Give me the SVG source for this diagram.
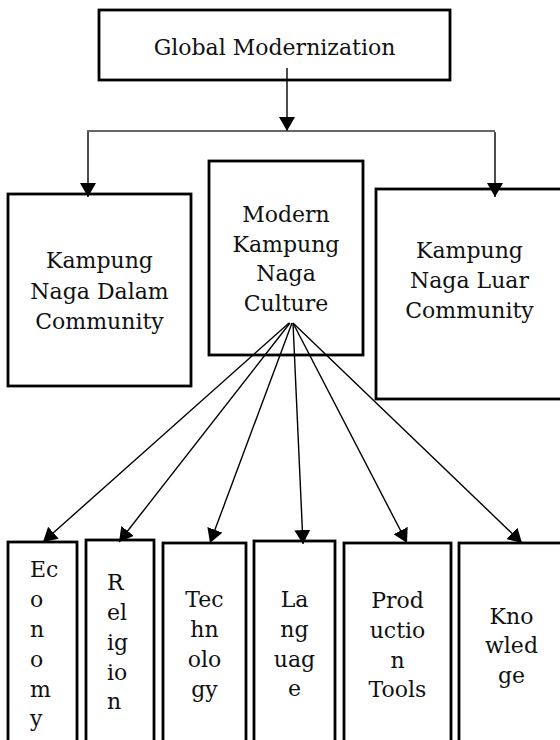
<svg xmlns="http://www.w3.org/2000/svg" width="560" height="740" viewBox="0 0 560 740">
  <style>
    .box { fill: #ffffff; stroke: #000000; stroke-width: 2.8; }
    .t { font-family: "DejaVu Serif", "Liberation Serif", serif; font-size: 22px; fill: #111111; }
    .c { text-anchor: middle; }
    .conn { stroke: #000000; stroke-width: 1.4; fill: none; }
    .bus { stroke: #333333; stroke-width: 1.4; fill: none; }
  </style>
  <defs>
    <marker id="arrow" viewBox="0 0 14 16" refX="14" refY="8" markerWidth="14" markerHeight="16" markerUnits="userSpaceOnUse" orient="auto">
      <path d="M0,0 L14,8 L0,16 z" fill="#000000"/>
    </marker>
  </defs>
  <rect width="560" height="740" fill="#ffffff"/>

  <g id="global-modernization">
    <rect class="box" x="99" y="10" width="351" height="70"/>
    <text class="t c" x="274.5" y="55">Global Modernization</text>
  </g>

  <g id="kampung-naga-dalam">
    <rect class="box" x="8" y="194" width="183" height="192"/>
    <text class="t c" x="99.5" y="268">Kampung</text>
    <text class="t c" x="99.5" y="299">Naga Dalam</text>
    <text class="t c" x="99.5" y="329">Community</text>
  </g>

  <g id="modern-kampung-naga-culture">
    <rect class="box" x="209" y="161" width="154" height="194"/>
    <text class="t c" x="286" y="222">Modern</text>
    <text class="t c" x="286" y="252">Kampung</text>
    <text class="t c" x="286" y="281">Naga</text>
    <text class="t c" x="286" y="311">Culture</text>
  </g>

  <g id="kampung-naga-luar">
    <rect class="box" x="376" y="189" width="187" height="210"/>
    <text class="t c" x="469.5" y="258">Kampung</text>
    <text class="t c" x="469.5" y="288">Naga Luar</text>
    <text class="t c" x="469.5" y="318">Community</text>
  </g>

  <g id="economy">
    <rect class="box" x="8" y="542" width="69" height="220"/>
    <text class="t" x="30" y="577">Ec</text>
    <text class="t" x="30" y="607">o</text>
    <text class="t" x="30" y="637">n</text>
    <text class="t" x="30" y="667">o</text>
    <text class="t" x="30" y="697">m</text>
    <text class="t" x="30" y="726">y</text>
  </g>

  <g id="religion">
    <rect class="box" x="86" y="540" width="68" height="222"/>
    <text class="t" x="107" y="590">R</text>
    <text class="t" x="107" y="620">el</text>
    <text class="t" x="107" y="650">ig</text>
    <text class="t" x="107" y="680">io</text>
    <text class="t" x="107" y="709">n</text>
  </g>

  <g id="technology">
    <rect class="box" x="163" y="543" width="83" height="219"/>
    <text class="t c" x="204.5" y="607">Tec</text>
    <text class="t c" x="204.5" y="637">hn</text>
    <text class="t c" x="204.5" y="667">olo</text>
    <text class="t c" x="204.5" y="697">gy</text>
  </g>

  <g id="language">
    <rect class="box" x="254" y="541" width="81" height="221"/>
    <text class="t c" x="294.5" y="607">La</text>
    <text class="t c" x="294.5" y="637">ng</text>
    <text class="t c" x="294.5" y="667">uag</text>
    <text class="t c" x="294.5" y="696">e</text>
  </g>

  <g id="production-tools">
    <rect class="box" x="344" y="543" width="107" height="219"/>
    <text class="t c" x="397.5" y="608">Prod</text>
    <text class="t c" x="397.5" y="638">uctio</text>
    <text class="t c" x="397.5" y="668">n</text>
    <text class="t c" x="397.5" y="697">Tools</text>
  </g>

  <g id="knowledge">
    <rect class="box" x="459" y="543" width="105" height="219"/>
    <text class="t c" x="511.5" y="624">Kno</text>
    <text class="t c" x="511.5" y="653">wled</text>
    <text class="t c" x="511.5" y="683">ge</text>
  </g>

  <g id="connectors">
    <line class="conn" x1="287" y1="68" x2="287" y2="131" marker-end="url(#arrow)"/>
    <line class="bus" x1="87" y1="131" x2="495" y2="131"/>
    <line class="conn" x1="88" y1="132" x2="88" y2="197" marker-end="url(#arrow)"/>
    <line class="conn" x1="495" y1="132" x2="495" y2="197" marker-end="url(#arrow)"/>
    <line class="conn" x1="289" y1="323" x2="43" y2="542" marker-end="url(#arrow)"/>
    <line class="conn" x1="290" y1="323" x2="119" y2="542" marker-end="url(#arrow)"/>
    <line class="conn" x1="292" y1="323" x2="210" y2="543" marker-end="url(#arrow)"/>
    <line class="conn" x1="293" y1="323" x2="303" y2="544" marker-end="url(#arrow)"/>
    <line class="conn" x1="293" y1="323" x2="407" y2="543" marker-end="url(#arrow)"/>
    <line class="conn" x1="293" y1="323" x2="522" y2="543" marker-end="url(#arrow)"/>
  </g>
</svg>
